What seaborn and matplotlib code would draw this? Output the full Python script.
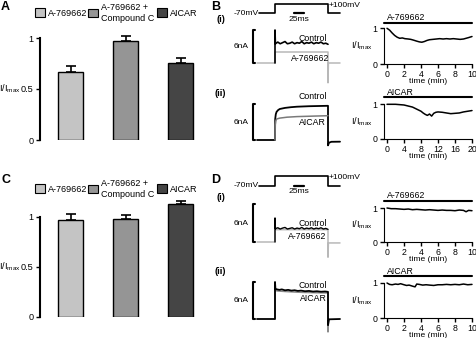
import numpy as np
import matplotlib
matplotlib.use("Agg")
import matplotlib.pyplot as plt
import seaborn as sns
from matplotlib.patches import Patch

# ---- data -------------------------------------------------------------
groups = ["A-769662", "A-769662 +\nCompound C", "AICAR"]
bar_colors = ["#c4c4c4", "#959595", "#454545"]

# A: mean +/- sem, C: mean +/- sem (I/Imax)
a_means = [0.665, 0.975, 0.755]
a_errs = [0.06, 0.045, 0.045]
c_means = [0.972, 0.982, 1.13]
c_errs = [0.055, 0.035, 0.03]

# time courses (min, I/Imax)
b1_t = [0, 0.3, 0.6, 0.9, 1.2, 1.5, 1.8, 2.1, 2.5, 2.8, 3.1, 3.5, 3.8, 4.1, 4.4, 4.7, 5.0, 5.4,
        5.8, 6.2, 6.6, 7.0, 7.4, 7.8, 8.2, 8.6, 9.0, 9.3, 9.6, 10.0]
b1_v = [1.0, 0.95, 0.87, 0.8, 0.75, 0.72, 0.73, 0.71, 0.70, 0.69, 0.67, 0.64, 0.62, 0.61, 0.63,
        0.66, 0.68, 0.69, 0.70, 0.71, 0.70, 0.71, 0.70, 0.71, 0.70, 0.69, 0.70, 0.72, 0.74, 0.77]
b2_t = [0, 1, 2, 3, 4, 5, 6, 7, 8, 8.5, 9, 9.5, 10, 10.5, 11, 11.5, 12, 13, 14, 15, 16, 17, 18,
        19, 20]
b2_v = [1.0, 1.0, 1.0, 0.99, 0.98, 0.95, 0.92, 0.86, 0.80, 0.75, 0.71, 0.68, 0.72, 0.66, 0.74,
        0.77, 0.78, 0.77, 0.75, 0.73, 0.74, 0.75, 0.78, 0.80, 0.82]
d1_t = [0, 0.5, 1, 1.5, 2, 2.5, 3, 3.5, 4, 4.5, 5, 5.5, 6, 6.5, 7, 7.5, 8, 8.5, 9, 9.3, 9.6, 10]
d1_v = [1.0, 0.98, 0.98, 0.97, 0.96, 0.97, 0.95, 0.96, 0.95, 0.94, 0.95, 0.94, 0.93, 0.94, 0.93,
        0.93, 0.92, 0.94, 0.93, 0.89, 0.93, 0.92]
d2_t = [0, 0.3, 0.6, 1, 1.3, 1.6, 2, 2.3, 2.6, 3, 3.3, 3.5, 3.8, 4.2, 4.6, 5, 5.5, 6, 6.5, 7,
        7.5, 8, 8.5, 9, 9.5, 10]
d2_v = [1.0, 0.96, 0.95, 0.97, 0.96, 0.98, 0.95, 0.93, 0.94, 0.91, 0.89, 0.97, 0.96, 0.94, 0.95,
        0.94, 0.93, 0.95, 0.95, 0.96, 0.95, 0.96, 0.95, 0.97, 0.95, 0.96]

# voltage protocol (ms, mV)
volt_t = [5, 45, 45, 177.5, 177.5, 207.5]
volt_mv = [-70, -70, 100, 100, -70, -70]

# current traces (ms, nA)
noise_t = [45, 45, 46, 52, 58, 64, 70, 76, 82, 88, 94, 100, 106, 112, 118, 124, 130, 136, 142,
           148, 154, 160, 166, 172, 177.5]
b1_ctrl_i = [0, 6.0, 3.5, 3.8, 3.5, 3.7, 3.9, 3.5, 3.6, 3.8, 3.5, 3.7, 3.6, 3.9, 3.5, 3.7, 3.6,
             3.8, 3.5, 3.7, 3.6, 3.8, 3.5, 3.6, 3.4]
b1_drug_t = [0, 45, 45, 177.5, 177.5, 178.5, 207.5]
b1_drug_i = [0, 0, 2.0, 2.0, -3.6, 0, 0]

b2_ctrl_t = [0, 45, 45.5, 47, 49, 53, 57, 70, 85, 100, 130, 177.5, 177.5, 180, 186, 207.5]
b2_ctrl_i = [0, 0, 3.5, 4.3, 4.7, 5.0, 5.17, 5.35, 5.47, 5.55, 5.63, 5.7, -0.9, -0.45, -0.3, -0.28]
b2_drug_t = [45, 45.5, 47, 49, 57, 75, 100, 140, 177.5]
b2_drug_i = [0, 2.5, 3.2, 3.5, 3.65, 3.8, 3.9, 3.98, 4.05]

d1_ctrl_i = [0, 3.8, 2.1, 2.25, 2.05, 2.2, 2.3, 2.05, 2.15, 2.25, 2.05, 2.2, 2.1, 2.3, 2.05,
             2.2, 2.1, 2.25, 2.05, 2.2, 2.1, 2.25, 2.05, 2.15, 2.0]
d1_drug_t = [0, 45, 45, 177.5, 177.5, 178.5, 207.5]
d1_drug_i = [0, 0, 1.95, 1.95, -2.4, -0.15, -0.15]

d2_ctrl_t = [0, 45, 45, 46, 50, 56, 62, 70, 78, 86, 94, 102, 110, 120, 130, 140, 150, 160, 170,
             177.5, 177.5, 180, 207.5]
d2_ctrl_i = [0, 0, 6.0, 4.9, 4.8, 4.72, 4.8, 4.65, 4.72, 4.6, 4.66, 4.55, 4.6, 4.5, 4.55, 4.45,
             4.5, 4.42, 4.46, 4.4, -1.0, -0.05, 0]
d2_drug_t = [45, 45, 46, 50, 60, 80, 100, 120, 140, 160, 177.5, 177.5, 178.5]
d2_drug_i = [0, 5.6, 4.65, 4.55, 4.5, 4.42, 4.35, 4.3, 4.27, 4.24, 4.22, -2.1, -0.3]

# ---- style ------------------------------------------------------------
FS = 6.3
sns.set_style("ticks", {"axes.edgecolor": "black", "xtick.color": "black",
                        "ytick.color": "black", "text.color": "black",
                        "axes.labelcolor": "black"})
plt.rcParams["font.family"] = ["Liberation Sans", "DejaVu Sans"]
plt.rcParams["mathtext.fontset"] = "custom"
plt.rcParams["mathtext.rm"] = "Liberation Sans"
plt.rcParams["mathtext.it"] = "Liberation Sans:italic"
plt.rcParams["font.size"] = FS
plt.rcParams["xtick.major.size"] = 3
plt.rcParams["ytick.major.size"] = 3
plt.rcParams["xtick.major.width"] = 1
plt.rcParams["ytick.major.width"] = 1
plt.rcParams["xtick.major.pad"] = 1
plt.rcParams["ytick.major.pad"] = 1.5

W, H = 477, 338
fig = plt.figure(figsize=(W / 100, H / 100), dpi=100)
ylab = r"I/I$_{\rm max}$"


def px_axes(x0, x1, y0, y1):
    return fig.add_axes([x0 / W, 1 - y1 / H, (x1 - x0) / W, (y1 - y0) / H])


def bar_panel(y_zero, y_one, means, errs, legend_y):
    unit = y_zero - y_one
    top = 1.2
    ax = px_axes(40, 210, y_zero - top * unit, y_zero)
    sns.barplot(x=groups, y=means, hue=groups, palette=bar_colors, width=0.47,
                edgecolor="black", linewidth=1, errorbar=None, legend=False, ax=ax)
    ax.errorbar(range(len(means)), means, yerr=[np.zeros(len(errs)), errs], fmt="none",
                ecolor="black", elinewidth=1.2, capsize=3.5, capthick=1.2)
    ax.set_xlim(-30.5 / 55, -30.5 / 55 + 170 / 55)
    ax.set_ylim(0, top)
    ax.set_yticks([0, 0.5, 1], labels=["0", "0.5", "1"], fontsize=FS + 0.3)
    ax.set_xticks([])
    ax.spines["left"].set_bounds(0, 1)
    ax.spines["left"].set_linewidth(1.5)
    for s in ["top", "right", "bottom"]:
        ax.spines[s].set_visible(False)
    ax.set_ylabel(ylab, rotation=0, ha="right", va="center", fontsize=FS + 0.3)
    ax.yaxis.set_label_coords(-19 / 170, 0.5 / top)
    # one legend entry per group, centred on the same row
    for x, c, g in zip([35, 88, 157], bar_colors, groups):
        fig.legend([Patch(facecolor=c, edgecolor="black", linewidth=0.8)], [g],
                   loc="center left", bbox_to_anchor=(x / W, 1 - legend_y / H),
                   frameon=False, fontsize=FS + 0.2, handlelength=1.15, handleheight=1.0,
                   handletextpad=0.3, borderpad=0, borderaxespad=0)
    return ax


def time_panel(t, v, label, y_zero, y_one, tmax, ticks, bar_y):
    per = 85 / tmax
    ax = px_axes(384, 472, y_one, y_zero)
    sns.lineplot(x=t, y=v, ax=ax, color="black", linewidth=1.1, estimator=None, sort=False,
                 clip_on=False)
    ax.set_xlim(-3 / per, tmax)
    ax.set_ylim(0, 1)
    ax.set_xticks(ticks)
    ax.set_yticks([0, 1])
    sns.despine(ax=ax)
    ax.axhline(bar_y, color="black", linewidth=1.5, clip_on=False)
    ax.text(0, bar_y + 0.02, label, ha="left", va="bottom", fontsize=FS)
    ax.set_xlabel("time (min)", labelpad=-0.6, fontsize=FS - 0.2)
    ax.set_ylabel(ylab, rotation=0, ha="center", va="center", fontsize=FS + 0.3)
    ax.yaxis.set_label_coords(-22 / 88, 0.5)
    return ax


T0, PXMS = 257, 0.4


def trace_ax(y_top, y_bottom, y_zero, px_unit):
    ax = px_axes(237, 362, y_top, y_bottom)
    ax.set_xlim((237 - T0) / PXMS, (362 - T0) / PXMS)
    ax.set_ylim(-(y_bottom - y_zero) / px_unit, (y_zero - y_top) / px_unit)
    ax.axis("off")
    # 6 nA scale bracket
    ax.plot([-5, -10, -10, -5], [0, 0, 6, 6], color="black", linewidth=1.5)
    ax.text(-22, 3, "6nA", ha="right", va="center", fontsize=FS - 0.3)
    return ax


def volt_panel(y_top, y_bottom, y_low, y_high):
    mvpx = 170 / (y_low - y_high)
    ax = px_axes(237, 362, y_top, y_bottom)
    ax.set_xlim((237 - T0) / PXMS, (362 - T0) / PXMS)
    ax.set_ylim(-70 - (y_bottom - y_low) * mvpx, 100 + (y_high - y_top) * mvpx)
    ax.axis("off")
    sns.lineplot(x=volt_t, y=volt_mv, ax=ax, color="black", linewidth=1.2, estimator=None,
                 sort=False)
    ax.text(4, -70, "-70mV", ha="right", va="center", fontsize=FS - 0.2)
    ax.text(180, 100 - 1.5 * mvpx, "+100mV", ha="left", va="center", fontsize=FS - 0.2)
    ax.plot([93, 118], [-70, -70], color="black", linewidth=1.6)
    ax.text(105.5, -70 - 2.5 * mvpx, "25ms", ha="center", va="top", fontsize=FS - 0.2)
    return ax


def trace(ax, t, i, color, lw=1.1):
    sns.lineplot(x=t, y=i, ax=ax, color=color, linewidth=lw, estimator=None, sort=False)


# ---- A / C bars ---------------------------------------------------------
bar_panel(140, 38, a_means, a_errs, 13)
bar_panel(316.7, 216.7, c_means, c_errs, 189)

# ---- B ------------------------------------------------------------------
volt_panel(0, 22, 13.3, 4.3)
ax = trace_ax(25, 90, 63, 5.5)
trace(ax, b1_drug_t, b1_drug_i, "#b8b8b8")
trace(ax, noise_t, b1_ctrl_i, "black", 1.2)
ax.text(175, 4.5, "Control", ha="right", va="center", fontsize=FS)
ax.text(182, 0.9, "A-769662", ha="right", va="center", fontsize=FS)

ax = trace_ax(95, 150, 140, 6)
trace(ax, b2_ctrl_t, b2_ctrl_i, "black", 1.3)
trace(ax, b2_drug_t, b2_drug_i, "#7a7a7a")
ax.text(174, 7.2, "Control", ha="right", va="center", fontsize=FS)
ax.text(172, 3.0, "AICAR", ha="right", va="center", fontsize=FS)

time_panel(b1_t, b1_v, "A-769662", 64, 28.3, 10, range(0, 11, 2), 1.16)
time_panel(b2_t, b2_v, "AICAR", 139, 104.3, 20, range(0, 21, 4), 1.2)

# ---- D ------------------------------------------------------------------
volt_panel(170, 194, 185.7, 175.7)
ax = trace_ax(195, 262, 242, 6.33)
trace(ax, d1_drug_t, d1_drug_i, "#b8b8b8")
trace(ax, noise_t, d1_ctrl_i, "black", 1.0)
ax.text(174, 3.0, "Control", ha="right", va="center", fontsize=FS)
ax.text(174, 0.8, "A-769662", ha="right", va="center", fontsize=FS)

ax = trace_ax(275, 335, 319, 6.17)
trace(ax, d2_drug_t, d2_drug_i, "#8a8a8a")
trace(ax, d2_ctrl_t, d2_ctrl_i, "black", 1.3)
ax.text(174, 5.5, "Control", ha="right", va="center", fontsize=FS)
ax.text(174, 3.4, "AICAR", ha="right", va="center", fontsize=FS)

time_panel(d1_t, d1_v, "A-769662", 242, 208, 10, range(0, 11, 2), 1.22)
time_panel(d2_t, d2_v, "AICAR", 318, 283, 10, range(0, 11, 2), 1.19)

# ---- panel letters -----------------------------------------------------
for x, y, s in [(1, 1, "A"), (211, 1, "B"), (1, 174, "C"), (211, 174, "D")]:
    fig.text(x / W, 1 - y / H, s, ha="left", va="top", fontsize=9, fontweight="bold")
for x, y, s in [(221, 20, "(i)"), (220, 93, "(ii)"), (221, 198, "(i)"), (220, 272, "(ii)")]:
    fig.text(x / W, 1 - y / H, s, ha="center", va="center", fontsize=FS + 0.5,
             fontweight="bold")

fig.savefig("out.png", dpi=100)
